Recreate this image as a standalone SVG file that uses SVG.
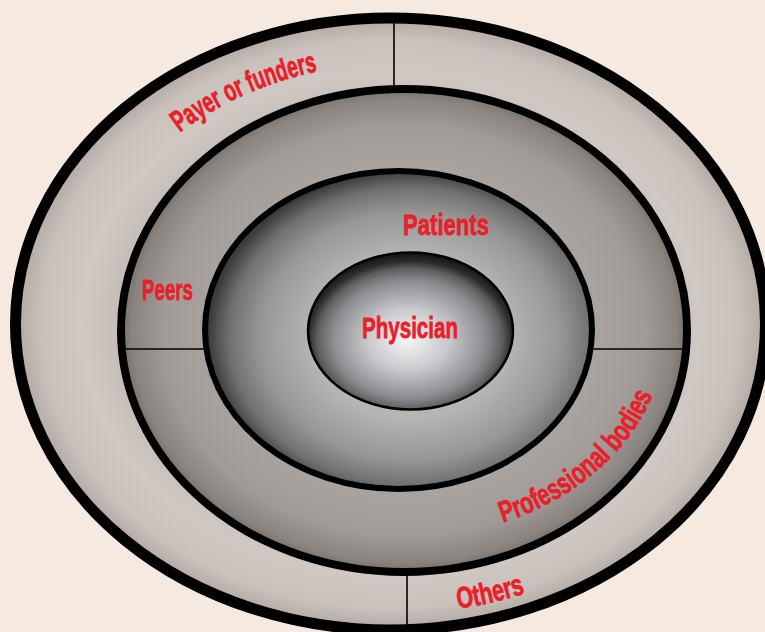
<svg xmlns="http://www.w3.org/2000/svg" width="765" height="632" viewBox="0 0 765 632">
<defs>
<radialGradient id="gOuter" cx="0.5" cy="0.5" r="0.5">
<stop offset="0.7" stop-color="#c2bab4"/>
<stop offset="0.82" stop-color="#d0c8c2"/>
<stop offset="0.93" stop-color="#c9c1bb"/>
<stop offset="1" stop-color="#b1a8a2"/>
</radialGradient>
<radialGradient id="gMiddle" cx="0.5" cy="0.5" r="0.5">
<stop offset="0.6" stop-color="#aca7a3"/>
<stop offset="0.85" stop-color="#a09b97"/>
<stop offset="0.96" stop-color="#8a8480"/>
<stop offset="1" stop-color="#76706c"/>
</radialGradient>
<radialGradient id="gPatients" cx="0.53" cy="0.52" r="0.52">
<stop offset="0" stop-color="#cecece"/>
<stop offset="0.5" stop-color="#b4b4b4"/>
<stop offset="0.75" stop-color="#969696"/>
<stop offset="0.9" stop-color="#707070"/>
<stop offset="1" stop-color="#3c3c3c"/>
</radialGradient>
<radialGradient id="gPhysician" cx="0.5" cy="0.55" r="0.55" fx="0.48" fy="0.56">
<stop offset="0" stop-color="#f5f5f7"/>
<stop offset="0.35" stop-color="#c9cacd"/>
<stop offset="0.68" stop-color="#8b8c8f"/>
<stop offset="0.82" stop-color="#5e5e60"/>
<stop offset="0.9" stop-color="#2c2c2c"/>
<stop offset="1" stop-color="#121212"/>
</radialGradient>
<path id="pPayer" d="M 179.8 132.6 A 323 265 0 0 1 426.2 64.0"/>
<path id="pProf" d="M 503 522.6 A 262 208 0 0 0 665 348.1"/>
<path id="pOthers" d="M 458.2 608.7 A 347 285 0 0 0 621 546.3"/>
</defs>
<style>
.lbl{font-family:"Liberation Sans Narrow","Liberation Sans","DejaVu Sans Condensed",sans-serif;font-weight:bold;font-size:30px;fill:#e8202a;stroke:#e8202a;stroke-width:0.8}
.div{stroke:#000;stroke-width:1.6;fill:none}
</style>
<rect width="765" height="632" fill="#f5e9e0"/>

<g id="ring-outer">
<ellipse cx="390.5" cy="324" rx="375" ry="306" fill="url(#gOuter)" stroke="#000" stroke-width="11"/>
<line class="div" x1="394" y1="18" x2="394" y2="92"/>
<line class="div" x1="407" y1="568" x2="407" y2="628"/>
<text class="lbl"><textPath href="#pPayer" textLength="152" lengthAdjust="spacingAndGlyphs">Payer or funders</textPath></text>
<text class="lbl"><textPath href="#pOthers" textLength="69" lengthAdjust="spacingAndGlyphs">Others</textPath></text>
</g>

<g id="ring-middle">
<ellipse cx="404" cy="330.5" rx="283" ry="241.5" fill="url(#gMiddle)" stroke="#000" stroke-width="8"/>
<line class="div" x1="122" y1="349" x2="210" y2="349"/>
<line class="div" x1="588" y1="349" x2="686" y2="349"/>
<text class="lbl" x="142" y="300" textLength="51" lengthAdjust="spacingAndGlyphs">Peers</text>
<text class="lbl"><textPath href="#pProf" textLength="203" lengthAdjust="spacingAndGlyphs">Professional bodies</textPath></text>
</g>

<g id="ring-patients">
<ellipse cx="398.5" cy="330" rx="193.5" ry="159" fill="url(#gPatients)" stroke="#000" stroke-width="6"/>
<text class="lbl" x="403" y="235" textLength="86" lengthAdjust="spacingAndGlyphs">Patients</text>
</g>

<g id="physician">
<ellipse cx="410.5" cy="331" rx="102.5" ry="78.5" fill="url(#gPhysician)" stroke="#000" stroke-width="2.5"/>
<text class="lbl" x="362" y="338" textLength="96" lengthAdjust="spacingAndGlyphs">Physician</text>
</g>
</svg>
